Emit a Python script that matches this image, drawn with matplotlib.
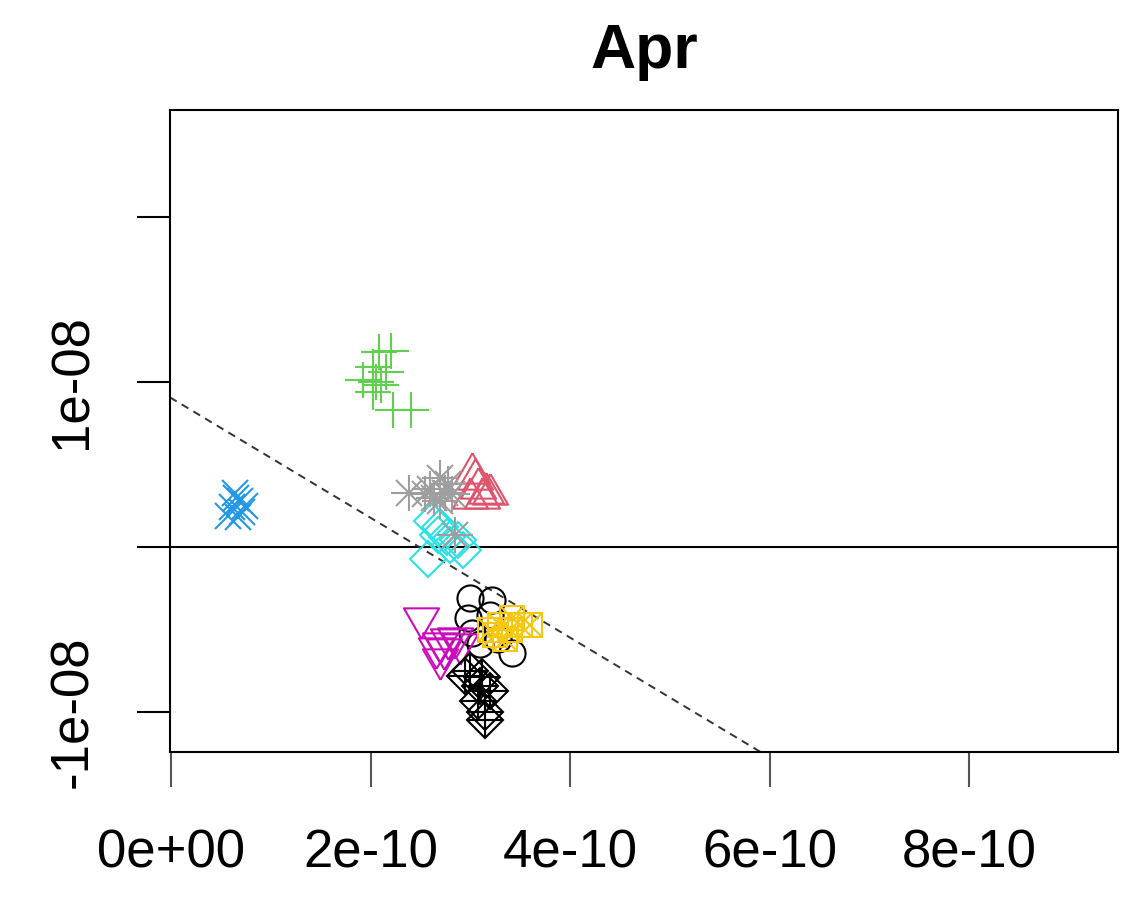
import matplotlib
matplotlib.use("Agg")
import matplotlib.pyplot as plt

plt.rcParams['font.family'] = ['Liberation Sans', 'DejaVu Sans']

# groups, one per symbol (R pch 1..9), x in units of 1e-10, y in units of 1e-8
circ_x = [3.00, 3.22, 2.98, 3.02, 3.20, 3.42, 3.10, 3.28]
circ_y = [-0.31, -0.32, -0.43, -0.52, -0.41, -0.64, -0.59, -0.56]

tri_x = [3.02, 3.08, 3.20, 3.12, 3.00, 3.16, 3.05]
tri_y = [0.45, 0.36, 0.32, 0.30, 0.30, 0.33, 0.41]

plus_x = [2.08, 2.20, 2.02, 2.05, 1.92, 2.10, 2.02, 2.22, 2.40, 2.15]
plus_y = [1.18, 1.19, 1.09, 1.00, 1.01, 0.98, 0.94, 0.83, 0.83, 1.06]

cross_x = [0.64, 0.69, 0.61, 0.74, 0.67, 0.57, 0.71, 0.65]
cross_y = [0.33, 0.28, 0.24, 0.25, 0.18, 0.19, 0.21, 0.30]

diam_x = [2.62, 2.70, 2.77, 2.58, 2.88, 2.93, 2.80, 2.68]
diam_y = [0.16, 0.12, 0.06, -0.07, 0.04, -0.02, 0.01, 0.07]

dtri_x = [2.50, 2.70, 2.78, 2.85, 2.74, 2.70, 2.90, 2.66]
dtri_y = [-0.43, -0.58, -0.56, -0.55, -0.62, -0.68, -0.59, -0.61]

sqx_x = [3.30, 3.40, 3.50, 3.25, 3.35, 3.60, 3.20, 3.42]
sqx_y = [-0.47, -0.50, -0.47, -0.53, -0.56, -0.47, -0.50, -0.43]

star_x = [2.38, 2.70, 2.60, 2.75, 2.64, 2.82, 2.55, 2.70, 2.85, 2.78]
star_y = [0.33, 0.42, 0.35, 0.33, 0.30, 0.32, 0.32, 0.28, 0.07, 0.38]

dplus_x = [3.00, 3.12, 3.20, 3.08, 3.15, 3.10, 2.95, 3.15]
dplus_y = [-0.75, -0.79, -0.87, -0.93, -1.00, -0.84, -0.78, -1.05]

# dashed reference line
line_a = 0.903e-8
line_b = -36.3

xticks = [0, 2e-10, 4e-10, 6e-10, 8e-10]
xlabels = ['0e+00', '2e-10', '4e-10', '6e-10', '8e-10']
yticks = [2e-8, 1e-8, 0, -1e-8]
ylabels = ['', '1e-08', '', '-1e-08']

pal = ['black', '#DF536B', '#61D04F', '#2297E6', '#28E2E5',
       '#CD0BBC', '#F5C710', '#9E9E9E']

R = 9.4   # symbol radius in points
mew = 1.5

fig = plt.figure(figsize=(11.42, 9.05), dpi=100)
ax = fig.add_axes([0.1489, 0.169, 0.8301, 0.7095])


def pts(xs, ys, color, marker, ms):
    ax.plot([v * 1e-10 for v in xs], [v * 1e-8 for v in ys], linestyle='none',
            marker=marker, ms=ms, mfc='none', mec=color, mew=mew)


up = [(0, 1.5551), (1.3468, -0.7776), (-1.3468, -0.7776), (0, 1.5551)]
down = [(x, -y) for x, y in up]
tri_ms = 2 * 1.5551 * R

ax.axhline(0, color='black', lw=1.5, zorder=1)
ax.axline((0, line_a), slope=line_b, color='#333333', lw=1.4,
          linestyle=(0, (4, 3)), zorder=1)

pts(circ_x, circ_y, pal[0], 'o', 2 * R)
pts(tri_x, tri_y, pal[1], up, tri_ms)
pts(plus_x, plus_y, pal[2], '+', 2.828 * R)
pts(cross_x, cross_y, pal[3], 'x', 2 * R)
pts(diam_x, diam_y, pal[4], 'D', 2 * R)
pts(dtri_x, dtri_y, pal[5], down, tri_ms)
pts(sqx_x, sqx_y, pal[6], 's', 1.772 * R)
pts(sqx_x, sqx_y, pal[6], 'x', 1.772 * R)
pts(star_x, star_y, pal[7], 'x', 2 * R)
pts(star_x, star_y, pal[7], '+', 2.828 * R)
pts(dplus_x, dplus_y, pal[0], 'D', 2 * R)
pts(dplus_x, dplus_y, pal[0], '+', 2.828 * R)

ax.set_xlim(-0.01e-10, 9.49e-10)
ax.set_ylim(-1.242e-8, 2.648e-8)

ax.set_xticks(xticks)
ax.set_xticklabels(xlabels)
ax.set_yticks(yticks)
ax.set_yticklabels(ylabels, rotation=90, va='center')

ax.tick_params(axis='x', length=25, width=1.5, pad=30, labelsize=38,
               color='#555555')
ax.tick_params(axis='y', length=24, width=1.5, pad=28, labelsize=38)
for s in ax.spines.values():
    s.set_linewidth(1.5)

ax.set_title('Apr', fontsize=45, fontweight='bold', pad=30)

fig.savefig('out.png', dpi=100)
